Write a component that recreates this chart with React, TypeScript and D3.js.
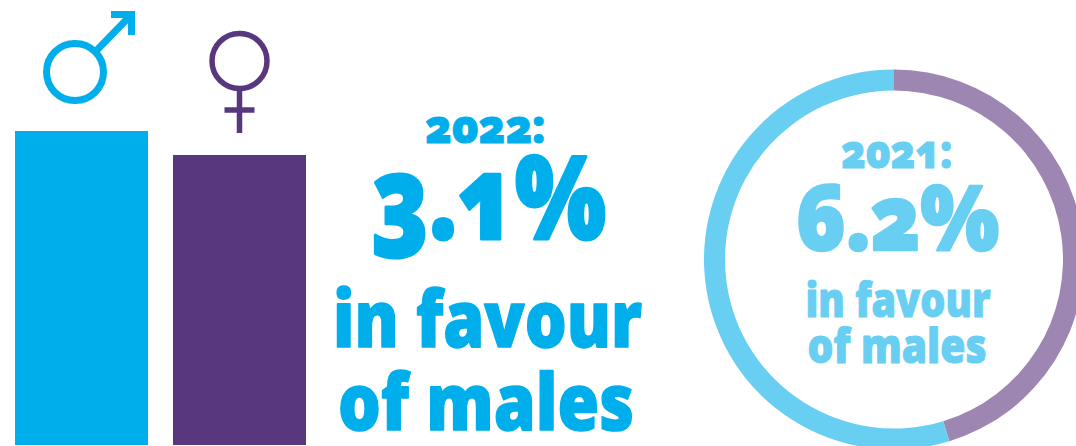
import React from "react";
import * as d3 from "d3";

const WIDTH = 1076;
const HEIGHT = 446;

// Pay by gender, 2022, male = 100
const genders = ["male", "female"];
const payIndex = [100, 96.9];

// Share of the ring, 2021
const ringSegments = ["female", "male"];
const ringShares = [45.3, 54.7];

const headline2022 = ["2022:", "3.1%", "in favour", "of males"];
const headline2021 = ["2021:", "6.2%", "in favour", "of males"];

const BLUE = "#00aeeb";
const PURPLE = "#58377f";
const LIGHT_BLUE = "#68cef2";
const LIGHT_PURPLE = "#9e86b3";

const FONT = "'Noto Sans', 'Open Sans', sans-serif";

const x = d3.scaleBand<string>().domain(genders).range([15, 306]).paddingInner(25 / 158).paddingOuter(0);
// The value axis is cut well above zero so the gap between the bars reads clearly.
const y = d3.scaleLinear().domain([59.44, 100]).range([445, 131]);

const pie = d3.pie<number>().sort(null).value((d) => d);
const arc = d3.arc<d3.PieArcDatum<number>>().innerRadius(169).outerRadius(190);
const ringColor = d3.scaleOrdinal<string, string>().domain(ringSegments).range([LIGHT_PURPLE, LIGHT_BLUE]);

function Line({ text, left, right, base, size, fill, bold = 0 }: { text: string; left: number; right: number; base: number; size: number; fill: string; bold?: number }) {
  return (
    <text
      x={left}
      y={base}
      fontSize={size}
      fontWeight={900}
      fill={fill}
      stroke={fill}
      strokeWidth={bold}
      strokeLinejoin="round"
      textLength={right - left}
      lengthAdjust="spacingAndGlyphs"
      style={{ fontFamily: FONT, fontFeatureSettings: "'onum'" }}
    >
      {text}
    </text>
  );
}

export default function App() {
  const femaleX = x("female")! + x.bandwidth() / 2;
  return (
    <svg width={WIDTH} height={HEIGHT} viewBox={`0 0 ${WIDTH} ${HEIGHT}`} style={{ position: "absolute", left: 0, top: 0, display: "block" }}>
      {genders.map((g, i) => (
        <rect key={g} x={x(g)} y={y(payIndex[i])} width={x.bandwidth()} height={y(y.domain()[0]) - y(payIndex[i])} fill={i === 0 ? BLUE : PURPLE} />
      ))}

      {/* Male symbol */}
      <g fill="none" stroke={BLUE} strokeWidth={7}>
        <circle cx={75} cy={72} r={28.5} />
        <path d="M97 50L130 16" />
        <path d="M111 14.5H131.5V35" />
      </g>

      {/* Female symbol */}
      <g fill="none" stroke={PURPLE} strokeWidth={5.5}>
        <circle cx={femaleX} cy={61} r={27.5} />
        <path d={`M${femaleX} 89V133M${femaleX - 15} 110H${femaleX + 15}`} />
      </g>

      <Line text={headline2022[0]} left={425} right={545} base={143} size={46} fill={BLUE} bold={1} />
      <Line text={headline2022[1]} left={371} right={606} base={239} size={116} fill={BLUE} bold={3} />
      <Line text={headline2022[2]} left={333} right={642} base={347} size={78} fill={BLUE} bold={1.5} />
      <Line text={headline2022[3]} left={338} right={634} base={430} size={78} fill={BLUE} bold={1.5} />

      <g transform="translate(894,259.5)">
        {pie(ringShares).map((d, i) => (
          <path key={ringSegments[i]} d={arc(d) ?? ""} fill={ringColor(ringSegments[i])} />
        ))}
      </g>

      <Line text={headline2021[0]} left={841} right={952} base={168} size={46} fill={LIGHT_BLUE} bold={1} />
      <Line text={headline2021[1]} left={796} right={999} base={250} size={90} fill={LIGHT_BLUE} bold={2.5} />
      <Line text={headline2021[2]} left={805.5} right={990.5} base={317} size={47} fill={LIGHT_BLUE} bold={1} />
      <Line text={headline2021[3]} left={807.5} right={986.5} base={363} size={47} fill={LIGHT_BLUE} bold={1} />
    </svg>
  );
}
